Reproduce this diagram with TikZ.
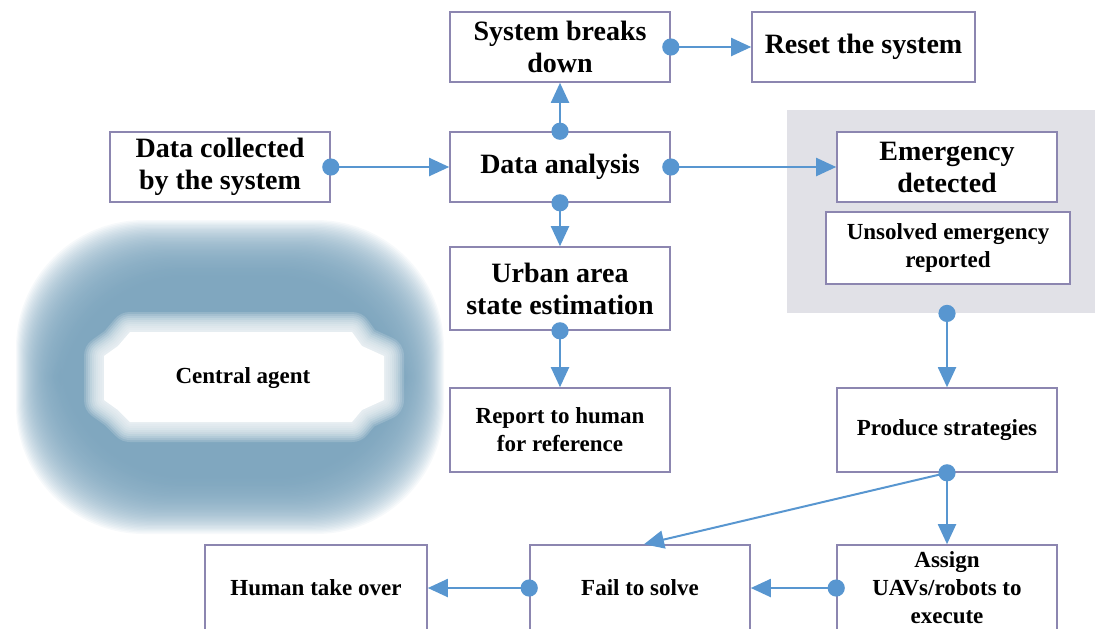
\documentclass[tikz,border=0pt]{standalone}
\usepackage{fontspec}
\setmainfont{Liberation Serif}
\usetikzlibrary{arrows.meta}
\definecolor{boxc}{RGB}{140,134,176}
\definecolor{linec}{RGB}{88,150,208}
\definecolor{grayc}{RGB}{225,225,231}
\definecolor{blobc}{RGB}{118,160,186}
\newcommand\bigf{\fontsize{14}{16}\selectfont\bfseries}
\newcommand\smallf{\fontsize{11.5}{14}\selectfont\bfseries}
\tikzset{
  box/.style={draw=boxc, line width=0.8pt, fill=white, align=center, inner sep=2pt, minimum width=110pt, font=\bigf},
  sbox/.style={box, font=\smallf},
  conn/.style={draw=linec, line width=1pt, -{Triangle[length=10pt,width=9pt]}},
  dot/.style={fill=linec}
}
\begin{document}
\begin{tikzpicture}[x=0.5pt,y=-0.5pt]
\useasboundingbox (0,0) rectangle (1095,628);
% central agent blob
\foreach \i in {0,...,44}{
  \fill[blobc, opacity=0.06, rounded corners=64pt] (16+\i,220+1.3*\i) rectangle (444-\i,534-1.3*\i);
}
\foreach \w in {20,18,...,2}{
  \draw[white, opacity=0.16, line width=\w pt, line join=round]
    (130,332) -- (352,332) -- (362,346) -- (384,356) -- (384,400) -- (362,410) -- (352,422) -- (130,422) -- (118,410) -- (104,400) -- (104,356) -- (118,346) -- cycle;
}
\fill[white] (130,332) -- (352,332) -- (362,346) -- (384,356) -- (384,400) -- (362,410) -- (352,422) -- (130,422) -- (118,410) -- (104,400) -- (104,356) -- (118,346) -- cycle;
\node[font=\smallf] (ca) at (243,378) {Central agent};
% gray group
\node[fill=grayc, minimum width=154pt, minimum height=101.5pt, inner sep=0pt] (grp) at (941,211.5) {};
% boxes
\node[box, minimum height=35pt] (sys) at (560,47) {System breaks\\down};
\node[box, minimum height=35pt, minimum width=111.5pt] (reset) at (863.5,47) {Reset the system};
\node[box, minimum height=35pt] (dc) at (220,167) {Data collected\\by the system};
\node[box, minimum height=35pt] (da) at (560,167) {Data analysis};
\node[box, minimum height=35pt] (emd) at (947,167) {Emergency\\detected};
\node[box, minimum height=41.5pt] (urban) at (560,288.5) {Urban area\\state estimation};
\node[sbox, minimum height=42pt] (rep) at (560,430) {Report to human\\for reference};
\node[sbox, minimum height=36pt, minimum width=122pt] (uns) at (948,248) {Unsolved emergency\\reported};
\node[sbox, minimum height=42pt] (prod) at (947,430) {Produce strategies};
\node[sbox, minimum height=43pt] (asg) at (947,588) {Assign\\UAVs/robots to\\execute};
\node[sbox, minimum height=43pt] (fail) at (640,588) {Fail to solve};
\node[sbox, minimum height=43pt, minimum width=111pt] (hum) at (316,588) {Human take over};
% connectors
\draw[conn] (dc.east) -- (da.west);
\draw[conn] (da.north) -- (sys.south);
\draw[conn] (sys.east) -- (reset.west);
\draw[conn] (da.east) -- (emd.west);
\draw[conn] (da.south) -- (urban.north);
\draw[conn] (urban.south) -- (rep.north);
\coordinate (gs) at (prod.north |- grp.south);
\draw[conn] (gs) -- (prod.north);
\draw[conn] (prod.south) -- (asg.north);
\draw[conn] (prod.south) -- ([xshift=2pt]fail.north);
\draw[conn] (asg.west) -- (fail.east);
\draw[conn] (fail.west) -- (hum.east);
% dots
\foreach \p in {dc.east, da.north, sys.east, da.east, da.south, urban.south, gs, prod.south, asg.west, fail.west}{
  \fill[dot] (\p) circle (4.3pt);
}
\end{tikzpicture}
\end{document}
